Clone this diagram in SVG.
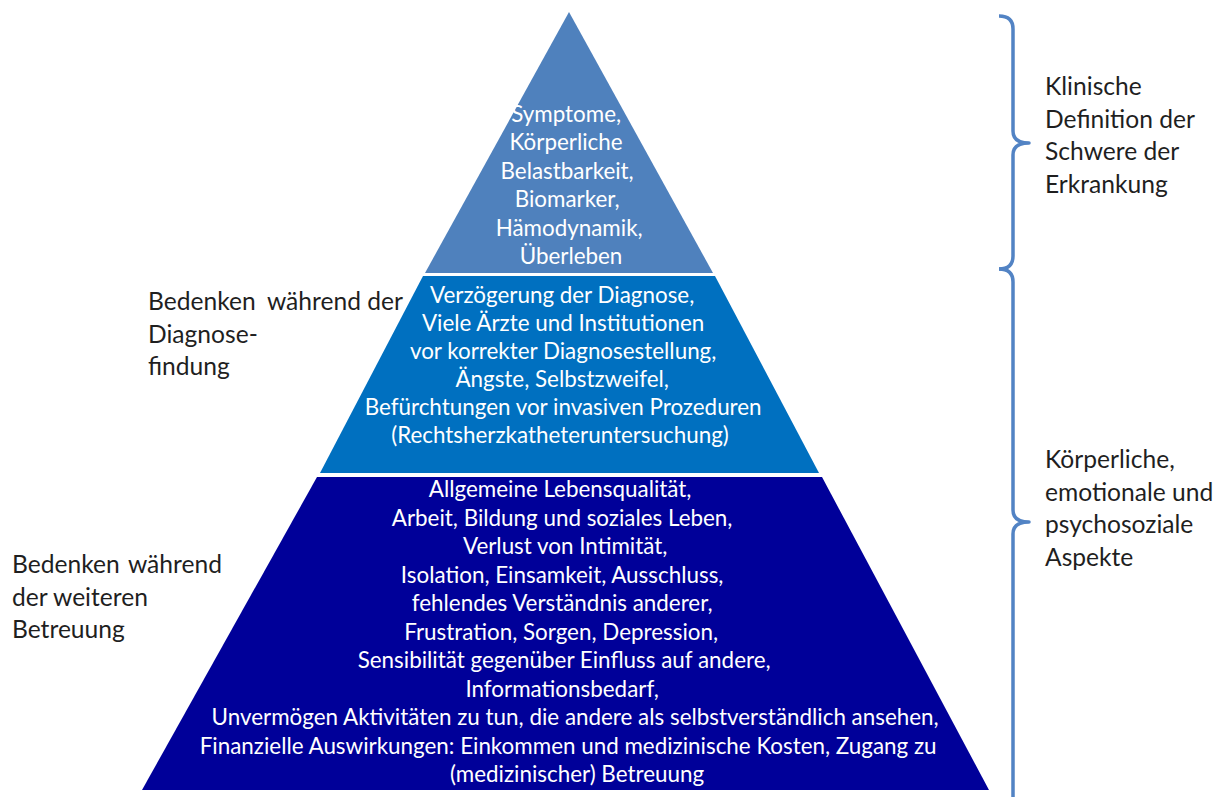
<svg xmlns="http://www.w3.org/2000/svg" width="1231" height="797" viewBox="0 0 1231 797">
  <style>
    .w { font-family: Lato, "Liberation Sans", sans-serif; font-size: 22.4px; fill: #ffffff; text-anchor: middle; }
    .k { font-family: Lato, "Liberation Sans", sans-serif; font-size: 24.6px; fill: #1f1f1f; }
    .brace { fill: none; stroke: #5283c4; stroke-width: 3.5; stroke-linecap: butt; stroke-linejoin: round; }
  </style>
  <rect width="1231" height="797" fill="#ffffff"/>

  <!-- Pyramid tiers -->
  <g id="tier-top">
    <polygon points="569,12 713,273 425,273" fill="#4f81bd"/>
    <text class="w">
      <tspan x="569" y="122">Symptome,</tspan>
      <tspan x="569" y="150.4">Körperliche</tspan>
      <tspan x="570" y="178.8">Belastbarkeit,</tspan>
      <tspan x="570" y="207.2">Biomarker,</tspan>
      <tspan x="572" y="235.6">Hämodynamik,</tspan>
      <tspan x="571" y="264">Überleben</tspan>
    </text>
  </g>

  <g id="tier-middle">
    <polygon points="423,276 715,276 819,473 320,473" fill="#0070c0"/>
    <text class="w">
      <tspan x="565" y="303">Verzögerung der Diagnose,</tspan>
      <tspan x="566" y="331">Viele Ärzte und Institutionen</tspan>
      <tspan x="566" y="359">vor korrekter Diagnosestellung,</tspan>
      <tspan x="565" y="387">Ängste, Selbstzweifel,</tspan>
      <tspan x="566" y="415">Befürchtungen vor invasiven Prozeduren</tspan>
      <tspan x="560" y="443">(Rechtsherzkatheteruntersuchung)</tspan>
    </text>
  </g>

  <g id="tier-bottom">
    <polygon points="317,477 822,477 989,790 142,790" fill="#000099"/>
    <text class="w">
      <tspan x="563" y="497">Allgemeine Lebensqualität,</tspan>
      <tspan x="565" y="525.5">Arbeit, Bildung und soziales Leben,</tspan>
      <tspan x="568" y="554">Verlust von Intimität,</tspan>
      <tspan x="565" y="582.5">Isolation, Einsamkeit, Ausschluss,</tspan>
      <tspan x="565" y="611">fehlendes Verständnis anderer,</tspan>
      <tspan x="564" y="639.5">Frustration, Sorgen, Depression,</tspan>
      <tspan x="567" y="668">Sensibilität gegenüber Einfluss auf andere,</tspan>
      <tspan x="565" y="696.5">Informationsbedarf,</tspan>
      <tspan x="578" y="725">Unvermögen Aktivitäten zu tun, die andere als selbstverständlich ansehen,</tspan>
      <tspan x="571" y="753.5">Finanzielle Auswirkungen: Einkommen und medizinische Kosten, Zugang zu</tspan>
      <tspan x="577" y="782">(medizinischer) Betreuung</tspan>
    </text>
  </g>

  <!-- Side labels -->
  <g id="label-diagnosis">
    <text class="k" x="148" y="310">Bedenken</text>
    <text class="k" x="403" y="310" text-anchor="end">während der</text>
    <text class="k" x="148" y="342.7">Diagnose-</text>
    <text class="k" x="148" y="375.4">findung</text>
  </g>

  <g id="label-care">
    <text class="k" x="12" y="573">Bedenken</text>
    <text class="k" x="222" y="573" text-anchor="end">während</text>
    <text class="k" x="12" y="605.7">der weiteren</text>
    <text class="k" x="12" y="638.4">Betreuung</text>
  </g>

  <g id="label-clinical">
    <text class="k">
      <tspan x="1045" y="95">Klinische</tspan>
      <tspan x="1045" y="127.7">Definition der</tspan>
      <tspan x="1045" y="160.4">Schwere der</tspan>
      <tspan x="1045" y="193.1">Erkrankung</tspan>
    </text>
  </g>

  <g id="label-aspects">
    <text class="k">
      <tspan x="1045" y="468">Körperliche,</tspan>
      <tspan x="1045" y="500.5">emotionale und</tspan>
      <tspan x="1045" y="533">psychosoziale</tspan>
      <tspan x="1045" y="565.5">Aspekte</tspan>
    </text>
  </g>

  <!-- Curly braces grouping the tiers -->
  <g id="brackets">
    <path class="brace" d="M999,16 Q1013,16 1013,29 L1013,131 Q1013,143 1029,143 Q1013,143 1013,155 L1013,256 Q1013,269 999,269"/>
    <path class="brace" d="M999,269 Q1013,269 1013,282 L1013,510 Q1013,522 1029,522 Q1013,522 1013,534 L1013,800"/>
  </g>
</svg>
